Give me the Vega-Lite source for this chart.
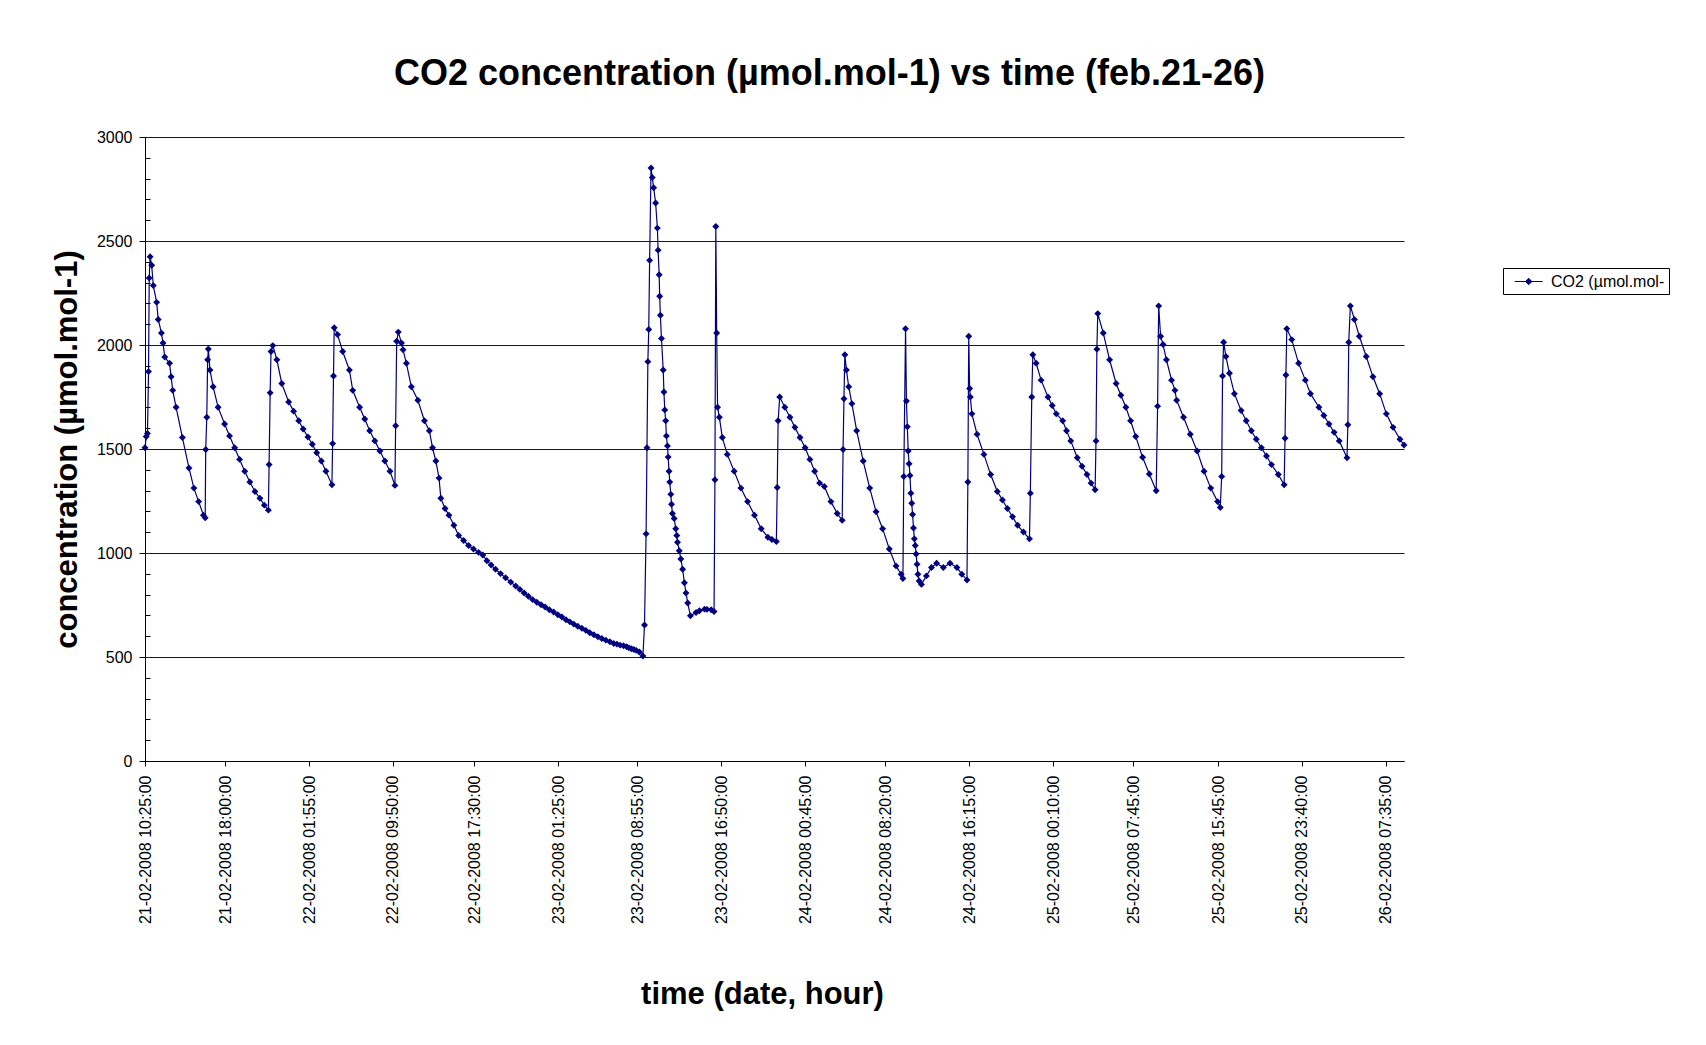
{
"$schema": "https://vega.github.io/schema/vega-lite/v6.json",
"width": 1259, "height": 624,
"autosize": {"type": "none"},
"padding": {"left": 145, "top": 137, "right": 302, "bottom": 284},
"background": "white",
"config": {"font": "Liberation Sans", "view": {"stroke": null}},
"title": {"text": "CO2 concentration (µmol.mol-1) vs time (feb.21-26)", "fontSize": 36, "fontWeight": "bold", "color": "black", "anchor": "middle", "frame": "group", "dx": 55, "offset": 8, "baseline": "alphabetic"},
"data": {"values": [
{"t":"2008-02-21T10:25","co2":1506},{"t":"2008-02-21T10:32","co2":1560},{"t":"2008-02-21T10:39","co2":1575},{"t":"2008-02-21T10:45","co2":1872},{"t":"2008-02-21T10:49","co2":2322},{"t":"2008-02-21T10:54","co2":2424},{"t":"2008-02-21T11:03","co2":2383},{"t":"2008-02-21T11:12","co2":2286},{"t":"2008-02-21T11:31","co2":2205},{"t":"2008-02-21T11:40","co2":2123},{"t":"2008-02-21T11:58","co2":2058},{"t":"2008-02-21T12:07","co2":2010},{"t":"2008-02-21T12:17","co2":1942},{"t":"2008-02-21T12:44","co2":1912},{"t":"2008-02-21T12:53","co2":1847},{"t":"2008-02-21T13:02","co2":1782},{"t":"2008-02-21T13:21","co2":1701},{"t":"2008-02-21T13:57","co2":1555},{"t":"2008-02-21T14:34","co2":1409},{"t":"2008-02-21T15:02","co2":1312},{"t":"2008-02-21T15:29","co2":1247},{"t":"2008-02-21T15:56","co2":1182},{"t":"2008-02-21T16:06","co2":1169},{"t":"2008-02-21T16:09","co2":1498},{"t":"2008-02-21T16:15","co2":1653},{"t":"2008-02-21T16:20","co2":1929},{"t":"2008-02-21T16:24","co2":1981},{"t":"2008-02-21T16:33","co2":1880},{"t":"2008-02-21T16:51","co2":1799},{"t":"2008-02-21T17:19","co2":1701},{"t":"2008-02-21T17:56","co2":1620},{"t":"2008-02-21T18:24","co2":1563},{"t":"2008-02-21T18:53","co2":1506},{"t":"2008-02-21T19:21","co2":1450},{"t":"2008-02-21T19:50","co2":1393},{"t":"2008-02-21T20:19","co2":1341},{"t":"2008-02-21T20:48","co2":1296},{"t":"2008-02-21T21:16","co2":1263},{"t":"2008-02-21T21:41","co2":1230},{"t":"2008-02-21T22:04","co2":1206},{"t":"2008-02-21T22:08","co2":1425},{"t":"2008-02-21T22:14","co2":1770},{"t":"2008-02-21T22:19","co2":1969},{"t":"2008-02-21T22:29","co2":1997},{"t":"2008-02-21T22:52","co2":1929},{"t":"2008-02-21T23:20","co2":1815},{"t":"2008-02-21T23:59","co2":1726},
{"t":"2008-02-22T00:27","co2":1682},{"t":"2008-02-22T00:56","co2":1636},{"t":"2008-02-22T01:21","co2":1596},{"t":"2008-02-22T01:48","co2":1558},{"t":"2008-02-22T02:13","co2":1523},{"t":"2008-02-22T02:38","co2":1482},{"t":"2008-02-22T03:04","co2":1442},{"t":"2008-02-22T03:30","co2":1393},{"t":"2008-02-22T04:04","co2":1328},{"t":"2008-02-22T04:08","co2":1526},{"t":"2008-02-22T04:13","co2":1851},{"t":"2008-02-22T04:17","co2":2083},{"t":"2008-02-22T04:36","co2":2050},{"t":"2008-02-22T05:05","co2":1969},{"t":"2008-02-22T05:43","co2":1880},{"t":"2008-02-22T06:02","co2":1782},{"t":"2008-02-22T06:41","co2":1701},{"t":"2008-02-22T07:10","co2":1644},{"t":"2008-02-22T07:38","co2":1588},{"t":"2008-02-22T08:07","co2":1539},{"t":"2008-02-22T08:36","co2":1490},{"t":"2008-02-22T09:04","co2":1442},{"t":"2008-02-22T09:33","co2":1393},{"t":"2008-02-22T10:01","co2":1325},{"t":"2008-02-22T10:05","co2":1612},{"t":"2008-02-22T10:11","co2":2018},{"t":"2008-02-22T10:20","co2":2062},{"t":"2008-02-22T10:38","co2":2010},{"t":"2008-02-22T10:47","co2":1977},{"t":"2008-02-22T11:06","co2":1912},{"t":"2008-02-22T11:34","co2":1799},{"t":"2008-02-22T12:11","co2":1734},{"t":"2008-02-22T12:48","co2":1636},{"t":"2008-02-22T13:16","co2":1588},{"t":"2008-02-22T13:34","co2":1506},{"t":"2008-02-22T13:53","co2":1442},{"t":"2008-02-22T14:11","co2":1360},{"t":"2008-02-22T14:21","co2":1263},{"t":"2008-02-22T14:45","co2":1214},{"t":"2008-02-22T15:07","co2":1182},{"t":"2008-02-22T15:35","co2":1133},{"t":"2008-02-22T16:02","co2":1084},{"t":"2008-02-22T16:30","co2":1060},{"t":"2008-02-22T16:58","co2":1036},{"t":"2008-02-22T17:26","co2":1019},{"t":"2008-02-22T17:55","co2":1003},{"t":"2008-02-22T18:19","co2":990},{"t":"2008-02-22T18:42","co2":963},{"t":"2008-02-22T19:06","co2":942},{"t":"2008-02-22T19:31","co2":922},{"t":"2008-02-22T19:59","co2":901},{"t":"2008-02-22T20:28","co2":881},{"t":"2008-02-22T20:57","co2":860},{"t":"2008-02-22T21:25","co2":841},{"t":"2008-02-22T21:49","co2":825},{"t":"2008-02-22T22:13","co2":808},{"t":"2008-02-22T22:37","co2":792},{"t":"2008-02-22T23:01","co2":776},{"t":"2008-02-22T23:25","co2":763},{"t":"2008-02-22T23:49","co2":751},
{"t":"2008-02-23T00:12","co2":740},{"t":"2008-02-23T00:36","co2":727},{"t":"2008-02-23T01:00","co2":716},{"t":"2008-02-23T01:24","co2":703},{"t":"2008-02-23T01:47","co2":692},{"t":"2008-02-23T02:10","co2":679},{"t":"2008-02-23T02:32","co2":669},{"t":"2008-02-23T02:55","co2":658},{"t":"2008-02-23T03:17","co2":648},{"t":"2008-02-23T03:40","co2":638},{"t":"2008-02-23T04:03","co2":628},{"t":"2008-02-23T04:25","co2":617},{"t":"2008-02-23T04:48","co2":607},{"t":"2008-02-23T05:11","co2":597},{"t":"2008-02-23T05:33","co2":589},{"t":"2008-02-23T05:56","co2":581},{"t":"2008-02-23T06:19","co2":573},{"t":"2008-02-23T06:41","co2":565},{"t":"2008-02-23T06:59","co2":562},{"t":"2008-02-23T07:17","co2":557},{"t":"2008-02-23T07:36","co2":554},{"t":"2008-02-23T07:54","co2":549},{"t":"2008-02-23T08:07","co2":544},{"t":"2008-02-23T08:21","co2":540},{"t":"2008-02-23T08:35","co2":536},{"t":"2008-02-23T08:48","co2":532},{"t":"2008-02-23T09:06","co2":524},{"t":"2008-02-23T09:26","co2":505},{"t":"2008-02-23T09:35","co2":654},{"t":"2008-02-23T09:44","co2":1092},{"t":"2008-02-23T09:49","co2":1506},{"t":"2008-02-23T09:54","co2":1920},{"t":"2008-02-23T09:59","co2":2075},{"t":"2008-02-23T10:04","co2":2407},{"t":"2008-02-23T10:12","co2":2851},{"t":"2008-02-23T10:19","co2":2805},{"t":"2008-02-23T10:27","co2":2756},{"t":"2008-02-23T10:38","co2":2683},{"t":"2008-02-23T10:48","co2":2562},{"t":"2008-02-23T10:52","co2":2456},{"t":"2008-02-23T10:58","co2":2338},{"t":"2008-02-23T11:01","co2":2234},{"t":"2008-02-23T11:05","co2":2143},{"t":"2008-02-23T11:11","co2":2031},{"t":"2008-02-23T11:21","co2":1880},{"t":"2008-02-23T11:25","co2":1774},{"t":"2008-02-23T11:30","co2":1688},{"t":"2008-02-23T11:35","co2":1636},{"t":"2008-02-23T11:39","co2":1563},{"t":"2008-02-23T11:45","co2":1515},{"t":"2008-02-23T11:49","co2":1461},{"t":"2008-02-23T11:54","co2":1393},{"t":"2008-02-23T11:58","co2":1341},{"t":"2008-02-23T12:04","co2":1282},{"t":"2008-02-23T12:08","co2":1234},{"t":"2008-02-23T12:13","co2":1190},{"t":"2008-02-23T12:23","co2":1166},{"t":"2008-02-23T12:32","co2":1117},{"t":"2008-02-23T12:38","co2":1084},{"t":"2008-02-23T12:42","co2":1052},{"t":"2008-02-23T12:52","co2":1011},{"t":"2008-02-23T13:01","co2":971},{"t":"2008-02-23T13:11","co2":922},{"t":"2008-02-23T13:21","co2":857},{"t":"2008-02-23T13:30","co2":808},{"t":"2008-02-23T13:40","co2":760},{"t":"2008-02-23T13:55","co2":698},{"t":"2008-02-23T14:27","co2":714},{"t":"2008-02-23T14:46","co2":722},{"t":"2008-02-23T15:15","co2":730},{"t":"2008-02-23T15:29","co2":729},{"t":"2008-02-23T15:53","co2":727},{"t":"2008-02-23T16:09","co2":719},{"t":"2008-02-23T16:14","co2":1352},{"t":"2008-02-23T16:19","co2":2570},{"t":"2008-02-23T16:24","co2":2058},{"t":"2008-02-23T16:29","co2":1701},{"t":"2008-02-23T16:39","co2":1653},{"t":"2008-02-23T16:56","co2":1555},{"t":"2008-02-23T17:24","co2":1474},{"t":"2008-02-23T18:03","co2":1393},{"t":"2008-02-23T18:41","co2":1312},{"t":"2008-02-23T19:19","co2":1247},{"t":"2008-02-23T19:58","co2":1182},{"t":"2008-02-23T20:36","co2":1117},{"t":"2008-02-23T21:14","co2":1076},{"t":"2008-02-23T21:37","co2":1065},{"t":"2008-02-23T22:02","co2":1055},{"t":"2008-02-23T22:07","co2":1315},{"t":"2008-02-23T22:12","co2":1636},{"t":"2008-02-23T22:21","co2":1750},{"t":"2008-02-23T22:50","co2":1701},{"t":"2008-02-23T23:19","co2":1653},{"t":"2008-02-23T23:47","co2":1604},
{"t":"2008-02-24T00:16","co2":1555},{"t":"2008-02-24T00:45","co2":1506},{"t":"2008-02-24T01:12","co2":1450},{"t":"2008-02-24T01:39","co2":1393},{"t":"2008-02-24T02:07","co2":1336},{"t":"2008-02-24T02:34","co2":1320},{"t":"2008-02-24T03:11","co2":1247},{"t":"2008-02-24T03:47","co2":1190},{"t":"2008-02-24T04:15","co2":1157},{"t":"2008-02-24T04:20","co2":1498},{"t":"2008-02-24T04:25","co2":1742},{"t":"2008-02-24T04:30","co2":1953},{"t":"2008-02-24T04:39","co2":1880},{"t":"2008-02-24T04:52","co2":1799},{"t":"2008-02-24T05:10","co2":1718},{"t":"2008-02-24T05:37","co2":1588},{"t":"2008-02-24T06:14","co2":1442},{"t":"2008-02-24T06:51","co2":1312},{"t":"2008-02-24T07:27","co2":1198},{"t":"2008-02-24T08:04","co2":1117},{"t":"2008-02-24T08:42","co2":1019},{"t":"2008-02-24T09:20","co2":938},{"t":"2008-02-24T09:49","co2":898},{"t":"2008-02-24T09:59","co2":877},{"t":"2008-02-24T10:04","co2":1368},{"t":"2008-02-24T10:14","co2":2078},{"t":"2008-02-24T10:19","co2":1731},{"t":"2008-02-24T10:24","co2":1607},{"t":"2008-02-24T10:29","co2":1490},{"t":"2008-02-24T10:34","co2":1429},{"t":"2008-02-24T10:39","co2":1373},{"t":"2008-02-24T10:44","co2":1287},{"t":"2008-02-24T10:49","co2":1239},{"t":"2008-02-24T10:54","co2":1185},{"t":"2008-02-24T10:59","co2":1120},{"t":"2008-02-24T11:04","co2":1068},{"t":"2008-02-24T11:09","co2":1036},{"t":"2008-02-24T11:14","co2":995},{"t":"2008-02-24T11:19","co2":946},{"t":"2008-02-24T11:24","co2":898},{"t":"2008-02-24T11:31","co2":865},{"t":"2008-02-24T11:44","co2":849},{"t":"2008-02-24T12:12","co2":890},{"t":"2008-02-24T12:41","co2":930},{"t":"2008-02-24T13:10","co2":951},{"t":"2008-02-24T13:48","co2":930},{"t":"2008-02-24T14:26","co2":951},{"t":"2008-02-24T15:05","co2":930},{"t":"2008-02-24T15:33","co2":898},{"t":"2008-02-24T16:02","co2":870},{"t":"2008-02-24T16:07","co2":1341},{"t":"2008-02-24T16:12","co2":2042},{"t":"2008-02-24T16:17","co2":1791},{"t":"2008-02-24T16:21","co2":1750},{"t":"2008-02-24T16:30","co2":1669},{"t":"2008-02-24T16:59","co2":1571},{"t":"2008-02-24T17:38","co2":1474},{"t":"2008-02-24T18:16","co2":1377},{"t":"2008-02-24T18:54","co2":1296},{"t":"2008-02-24T19:23","co2":1255},{"t":"2008-02-24T19:51","co2":1214},{"t":"2008-02-24T20:20","co2":1174},{"t":"2008-02-24T20:49","co2":1133},{"t":"2008-02-24T21:22","co2":1101},{"t":"2008-02-24T21:56","co2":1068},{"t":"2008-02-24T22:01","co2":1287},{"t":"2008-02-24T22:09","co2":1750},{"t":"2008-02-24T22:15","co2":1953},{"t":"2008-02-24T22:34","co2":1912},{"t":"2008-02-24T23:02","co2":1831},{"t":"2008-02-24T23:41","co2":1750},
{"t":"2008-02-25T00:05","co2":1709},{"t":"2008-02-25T00:28","co2":1669},{"t":"2008-02-25T01:04","co2":1636},{"t":"2008-02-25T01:26","co2":1588},{"t":"2008-02-25T01:50","co2":1539},{"t":"2008-02-25T02:27","co2":1458},{"t":"2008-02-25T02:54","co2":1417},{"t":"2008-02-25T03:22","co2":1377},{"t":"2008-02-25T03:45","co2":1336},{"t":"2008-02-25T04:08","co2":1304},{"t":"2008-02-25T04:13","co2":1539},{"t":"2008-02-25T04:18","co2":1980},{"t":"2008-02-25T04:23","co2":2151},{"t":"2008-02-25T04:54","co2":2058},{"t":"2008-02-25T05:30","co2":1929},{"t":"2008-02-25T06:07","co2":1815},{"t":"2008-02-25T06:34","co2":1758},{"t":"2008-02-25T07:02","co2":1701},{"t":"2008-02-25T07:29","co2":1636},{"t":"2008-02-25T07:58","co2":1560},{"t":"2008-02-25T08:37","co2":1460},{"t":"2008-02-25T09:15","co2":1380},{"t":"2008-02-25T09:54","co2":1299},{"t":"2008-02-25T10:02","co2":1706},{"t":"2008-02-25T10:08","co2":2188},{"t":"2008-02-25T10:19","co2":2042},{"t":"2008-02-25T10:33","co2":2002},{"t":"2008-02-25T10:52","co2":1929},{"t":"2008-02-25T11:21","co2":1831},{"t":"2008-02-25T11:40","co2":1782},{"t":"2008-02-25T11:50","co2":1734},{"t":"2008-02-25T12:29","co2":1653},{"t":"2008-02-25T13:07","co2":1571},{"t":"2008-02-25T13:46","co2":1490},{"t":"2008-02-25T14:25","co2":1393},{"t":"2008-02-25T15:03","co2":1312},{"t":"2008-02-25T15:42","co2":1247},{"t":"2008-02-25T15:57","co2":1219},{"t":"2008-02-25T16:05","co2":1368},{"t":"2008-02-25T16:10","co2":1851},{"t":"2008-02-25T16:16","co2":2013},{"t":"2008-02-25T16:29","co2":1945},{"t":"2008-02-25T16:49","co2":1864},{"t":"2008-02-25T17:17","co2":1766},{"t":"2008-02-25T17:55","co2":1685},{"t":"2008-02-25T18:24","co2":1636},{"t":"2008-02-25T18:53","co2":1588},{"t":"2008-02-25T19:21","co2":1547},{"t":"2008-02-25T19:50","co2":1506},{"t":"2008-02-25T20:19","co2":1466},{"t":"2008-02-25T20:47","co2":1425},{"t":"2008-02-25T21:26","co2":1377},{"t":"2008-02-25T21:59","co2":1328},{"t":"2008-02-25T22:04","co2":1552},{"t":"2008-02-25T22:09","co2":1856},{"t":"2008-02-25T22:14","co2":2078},{"t":"2008-02-25T22:42","co2":2026},{"t":"2008-02-25T23:21","co2":1912},{"t":"2008-02-25T23:59","co2":1831},
{"t":"2008-02-26T00:28","co2":1766},{"t":"2008-02-26T01:16","co2":1701},{"t":"2008-02-26T01:44","co2":1661},{"t":"2008-02-26T02:13","co2":1620},{"t":"2008-02-26T02:42","co2":1580},{"t":"2008-02-26T03:11","co2":1539},{"t":"2008-02-26T03:55","co2":1458},{"t":"2008-02-26T04:00","co2":1617},{"t":"2008-02-26T04:05","co2":2013},{"t":"2008-02-26T04:14","co2":2188},{"t":"2008-02-26T04:37","co2":2123},{"t":"2008-02-26T05:05","co2":2042},{"t":"2008-02-26T05:44","co2":1945},{"t":"2008-02-26T06:22","co2":1847},{"t":"2008-02-26T07:00","co2":1766},{"t":"2008-02-26T07:38","co2":1669},{"t":"2008-02-26T08:16","co2":1604},{"t":"2008-02-26T08:55","co2":1547},{"t":"2008-02-26T09:18","co2":1519}
]},
"mark": {"type": "line", "strokeWidth": 1.2, "point": {"shape": "diamond", "size": 48, "filled": true, "opacity": 1}},
"encoding": {
"x": {"field": "t", "type": "temporal", "scale": {"nice": false},
 "axis": {"title": "time (date, hour)", "values": [
  {"year":2008,"month":2,"date":21,"hours":10,"minutes":25},
  {"year":2008,"month":2,"date":21,"hours":18,"minutes":0},
  {"year":2008,"month":2,"date":22,"hours":1,"minutes":55},
  {"year":2008,"month":2,"date":22,"hours":9,"minutes":50},
  {"year":2008,"month":2,"date":22,"hours":17,"minutes":30},
  {"year":2008,"month":2,"date":23,"hours":1,"minutes":25},
  {"year":2008,"month":2,"date":23,"hours":8,"minutes":55},
  {"year":2008,"month":2,"date":23,"hours":16,"minutes":50},
  {"year":2008,"month":2,"date":24,"hours":0,"minutes":45},
  {"year":2008,"month":2,"date":24,"hours":8,"minutes":20},
  {"year":2008,"month":2,"date":24,"hours":16,"minutes":15},
  {"year":2008,"month":2,"date":25,"hours":0,"minutes":10},
  {"year":2008,"month":2,"date":25,"hours":7,"minutes":45},
  {"year":2008,"month":2,"date":25,"hours":15,"minutes":45},
  {"year":2008,"month":2,"date":25,"hours":23,"minutes":40},
  {"year":2008,"month":2,"date":26,"hours":7,"minutes":35}],
  "format": "%d-%m-%Y %H:%M:%S", "labelAngle": 270, "labelFontSize": 16, "labelColor": "black", "labelPadding": 9, "tickSize": 5, "tickColor": "black", "domainColor": "black", "grid": false, "labelOverlap": false, "labelFlush": false, "labelBound": false,
  "titleFontSize": 31, "titleFontWeight": "bold", "titleColor": "black", "titleX": 617, "titleY": 242, "titleBaseline": "alphabetic", "titleAlign": "center"}},
"y": {"field": "co2", "type": "quantitative", "scale": {"domain": [0, 3000], "nice": false},
 "axis": {"title": "concentration (µmol.mol-1)", "values": [0,100,200,300,400,500,600,700,800,900,1000,1100,1200,1300,1400,1500,1600,1700,1800,1900,2000,2100,2200,2300,2400,2500,2600,2700,2800,2900,3000],
  "format": "d", "labelExpr": "datum.value % 500 === 0 ? datum.label : ''",
  "grid": true, "gridColor": {"condition": {"test": "datum.value % 500 === 0", "value": "#1a1a1a"}, "value": "transparent"}, "gridWidth": 1,
  "tickSize": {"condition": {"test": "datum.value % 500 === 0", "value": 6}, "value": -5},
  "tickColor": "black", "domainColor": "black", "labelFontSize": 16, "labelColor": "black", "labelPadding": 7, "labelOverlap": false,
  "titleFontSize": 31, "titleFontWeight": "bold", "titleColor": "black", "titlePadding": 13}},
"color": {"datum": "CO2 (µmol.mol-1)", "scale": {"range": ["#000080"]},
 "legend": {"orient": "none", "legendX": 1358, "legendY": 131, "title": null, "strokeColor": "black", "fillColor": "white", "padding": 4,
  "symbolType": "M-0.2,0H2.9M1.35,-0.36L1.71,0L1.35,0.36L0.99,0Z", "symbolSize": 324, "symbolStrokeWidth": 1, "symbolFillColor": "#000080", "symbolStrokeColor": "#000080", "labelOffset": 25,
  "labelFontSize": 16, "labelColor": "black", "labelExpr": "slice(datum.label, 0, 14)"}}
}
}
